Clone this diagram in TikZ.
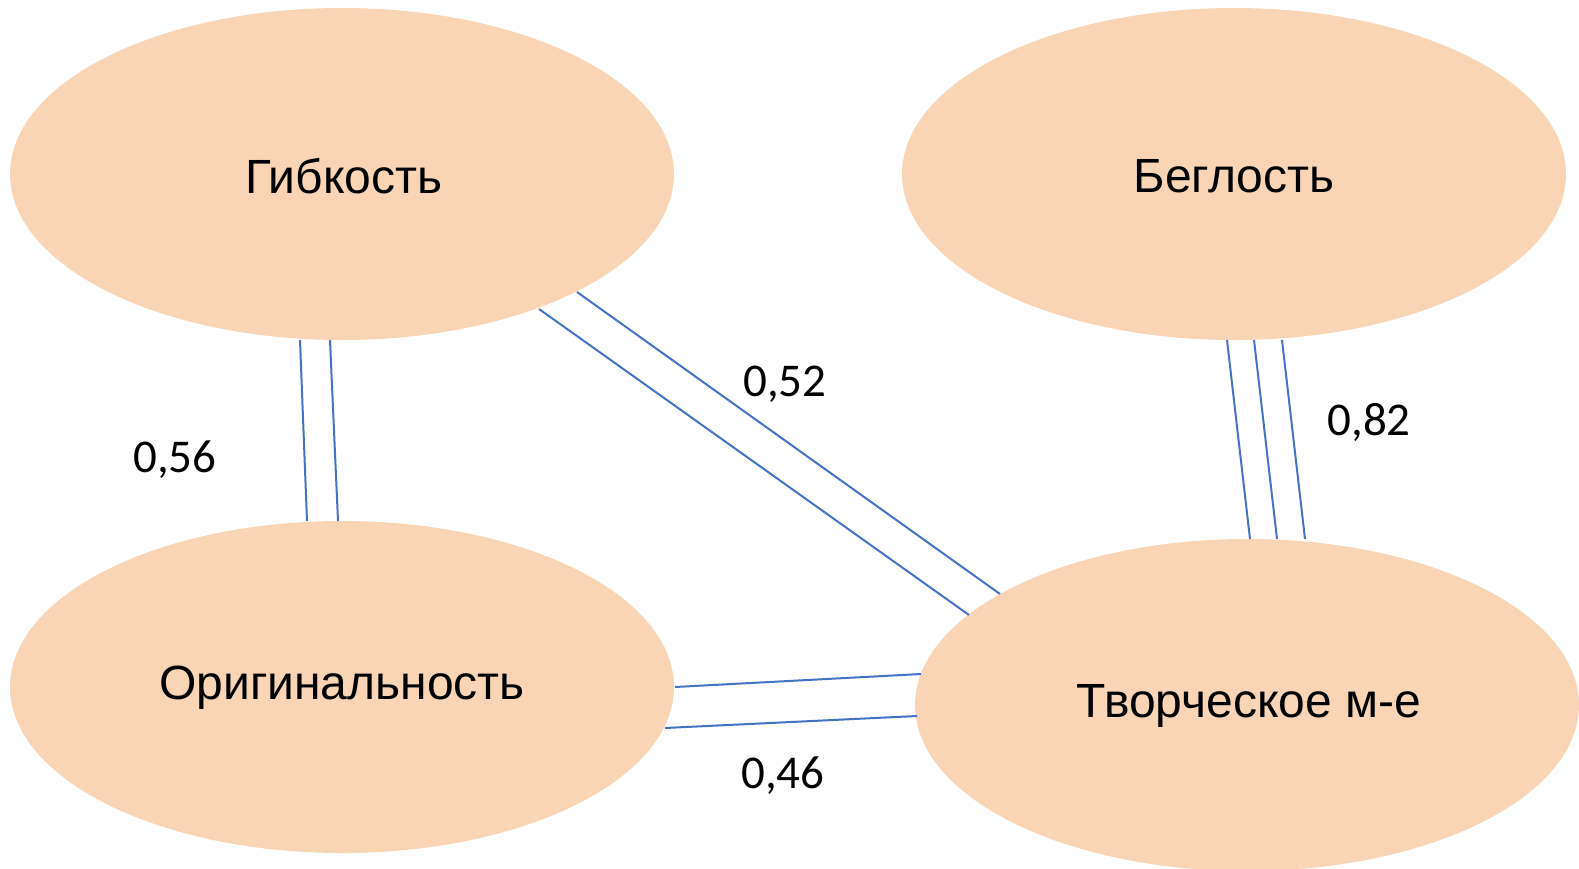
\documentclass[tikz,border=0pt]{standalone}
\usepackage{fontspec}
\setmainfont{Liberation Sans}
\newfontfamily\numfont{Carlito}
\usetikzlibrary{shapes.geometric}
\definecolor{peach}{HTML}{F9D5B5}
\definecolor{lnblue}{HTML}{4472C4}
\begin{document}
\begin{tikzpicture}[x=0.5pt,y=-0.5pt,
  bubble/.style={ellipse,fill=peach,draw=none,minimum width=332pt,minimum height=166pt,inner sep=0pt},
  lbl/.style={font=\fontsize{24}{28}\selectfont,inner sep=0pt},
  link/.style={draw=lnblue,line width=1pt},
  val/.style={font=\numfont\fontsize{23.5}{28}\selectfont,inner sep=0pt}]
\useasboundingbox (0,0) rectangle (1579,868);
\node[bubble,label={[lbl,xshift=1pt,yshift=-1pt]center:Гибкость}] (gib) at (342,174) {};
\node[bubble,label={[lbl,yshift=-1pt]center:Беглость}] (beg) at (1234,174) {};
\node[bubble,label={[lbl,yshift=-0.5pt]center:Оригинальность}] (orig) at (342,687) {};
\node[bubble,label={[lbl,xshift=1pt,yshift=-0.5pt]center:Творческое м-е}] (tvor) at (1247,705) {};
% endpoints
\coordinate (a1) at (300,340); \coordinate (b1) at (307,521);
\coordinate (a2) at (330,340); \coordinate (b2) at (338,521);
\coordinate (c1) at (539,309); \coordinate (d1) at (969,615);
\coordinate (c2) at (577,292); \coordinate (d2) at (1000,594);
\coordinate (e1) at (1227,340); \coordinate (f1) at (1250,539);
\coordinate (e2) at (1254,340); \coordinate (f2) at (1277,539);
\coordinate (e3) at (1282,340); \coordinate (f3) at (1305,539);
\coordinate (g1) at (675,687); \coordinate (h1) at (921,674);
\coordinate (g2) at (665,728); \coordinate (h2) at (917,716);
\draw[link] (a1) -- (b1); \draw[link] (a2) -- (b2);
\draw[link] (c1) -- (d1); \draw[link] (c2) -- (d2);
\draw[link] (e1) -- (f1); \draw[link] (e2) -- (f2); \draw[link] (e3) -- (f3);
\draw[link] (g1) -- (h1); \draw[link] (g2) -- (h2);
\node[val] (l56) at (175,460) {0,56};
\node[val] (l52) at (785,384) {0,52};
\node[val] (l82) at (1369,422) {0,82};
\node[val] (l46) at (783,776) {0,46};
\end{tikzpicture}
\end{document}
